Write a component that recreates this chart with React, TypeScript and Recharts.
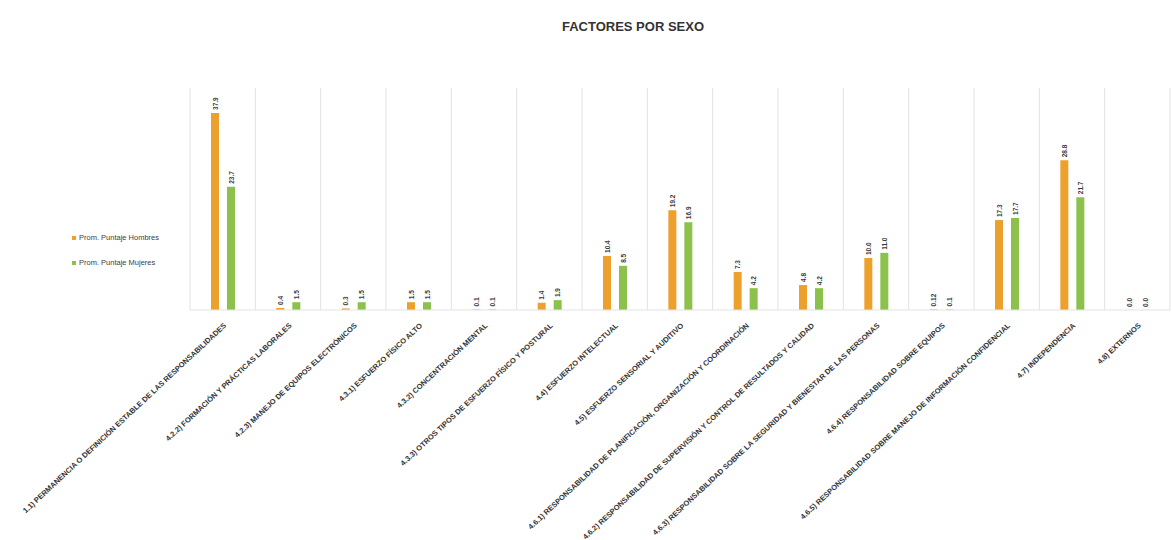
import React from 'react';
import { BarChart, Bar, XAxis, YAxis, CartesianGrid, LabelList } from 'recharts';

const categories = [
  '1.1) PERMANENCIA O DEFINICIÓN ESTABLE DE LAS RESPONSABILIDADES',
  '4.2.2) FORMACIÓN Y PRÁCTICAS LABORALES',
  '4.2.3) MANEJO DE EQUIPOS ELECTRÓNICOS',
  '4.3.1) ESFUERZO FÍSICO ALTO',
  '4.3.2) CONCENTRACIÓN MENTAL',
  '4.3.3) OTROS TIPOS DE ESFUERZO FÍSICO Y POSTURAL',
  '4.4) ESFUERZO INTELECTUAL',
  '4.5) ESFUERZO SENSORIAL Y AUDITIVO',
  '4.6.1) RESPONSABILIDAD DE PLANIFICACIÓN, ORGANIZACIÓN Y COORDINACIÓN',
  '4.6.2) RESPONSABILIDAD DE SUPERVISIÓN Y CONTROL DE RESULTADOS Y CALIDAD',
  '4.6.3) RESPONSABILIDAD SOBRE LA SEGURIDAD Y BIENESTAR DE LAS PERSONAS',
  '4.6.4) RESPONSABILIDAD SOBRE EQUIPOS',
  '4.6.5) RESPONSABILIDAD SOBRE MANEJO DE INFORMACIÓN CONFIDENCIAL',
  '4.7) INDEPENDENCIA',
  '4.8) EXTERNOS',
];

const hombres = [37.9, 0.4, 0.3, 1.5, 0.1, 1.4, 10.4, 19.2, 7.3, 4.8, 10.0, 0.12, 17.3, 28.8, 0.02];
const mujeres = [23.7, 1.5, 1.5, 1.5, 0.1, 1.9, 8.5, 16.9, 4.2, 4.2, 11.0, 0.1, 17.7, 21.7, 0.02];

const seriesNames = ['Prom. Puntaje Hombres', 'Prom. Puntaje Mujeres'];
const seriesColors = ['#EDA02C', '#8CC24B'];

const data = categories.map((c, i) => ({ name: c, h: hombres[i], m: mujeres[i] }));

const FONT = '"Liberation Sans", Arial, sans-serif';

const Tick = (props: any) => {
  const { x, y, payload } = props;
  return (
    <g transform={`translate(${x + 2},${y + 6})`}>
      <text
        transform="rotate(-43)"
        textAnchor="end"
        fontSize={7.5}
        fontWeight="bold"
        fontFamily={FONT}
        fill="#333"
        dy={3}
      >
        {payload.value}
      </text>
    </g>
  );
};

const ValueLabel = (props: any) => {
  const { x, y, width, value } = props;
  const cx = x + width / 2;
  const v = Number(value);
  const txt = v === 0.12 ? '0.12' : v.toFixed(1);
  return (
    <text
      transform={`translate(${cx + 2.5},${y - 3}) rotate(-90)`}
      textAnchor="start"
      fontSize={6.5}
      fontWeight="bold"
      fontFamily={FONT}
      fill="#3a3a3a"
    >
      {txt}
    </text>
  );
};

const gridGen = (props: any) => {
  const off = props.offset || {};
  const left = off.left ?? 190;
  const w = off.width ?? 980;
  const n = categories.length;
  return Array.from({ length: n + 1 }, (_, i) => left + (i * w) / n);
};

export default function App() {
  return (
    <div style={{ position: 'absolute', left: 0, top: 0, width: 1172, height: 540, background: '#fff' }}>
      <div
        style={{
          position: 'absolute',
          left: 0,
          width: 1266,
          top: 19,
          textAlign: 'center',
          fontFamily: FONT,
          fontWeight: 'bold',
          fontSize: 13,
          color: '#333',
        }}
      >
        FACTORES POR SEXO
      </div>
      <div style={{ position: 'absolute', left: 72, top: 231, fontFamily: FONT, fontSize: 7.5, color: '#404040' }}>
        {seriesNames.map((s, i) => (
          <div key={s} style={{ display: 'flex', alignItems: 'center', height: 13, marginBottom: i === 0 ? 12 : 0 }}>
            <span style={{ display: 'inline-block', width: 4, height: 4, background: seriesColors[i], marginRight: 3 }} />
            <span>{s}</span>
          </div>
        ))}
      </div>
      <BarChart
        width={1172}
        height={540}
        data={data}
        margin={{ top: 88, right: 2, left: 190, bottom: 0 }}
        barSize={8}
        barGap={8}
      >
        <CartesianGrid
          horizontal={false}
          vertical={true}
          stroke="#e3e3e3"
          verticalCoordinatesGenerator={gridGen}
        />
        <XAxis
          dataKey="name"
          interval={0}
          height={230}
          tickLine={false}
          axisLine={{ stroke: '#e3e3e3' }}
          tick={<Tick />}
        />
        <YAxis hide domain={[0, 42.7]} />
        <Bar dataKey="h" name={seriesNames[0]} fill={seriesColors[0]} isAnimationActive={false}>
          <LabelList dataKey="h" content={<ValueLabel />} />
        </Bar>
        <Bar dataKey="m" name={seriesNames[1]} fill={seriesColors[1]} isAnimationActive={false}>
          <LabelList dataKey="m" content={<ValueLabel />} />
        </Bar>
      </BarChart>
    </div>
  );
}
